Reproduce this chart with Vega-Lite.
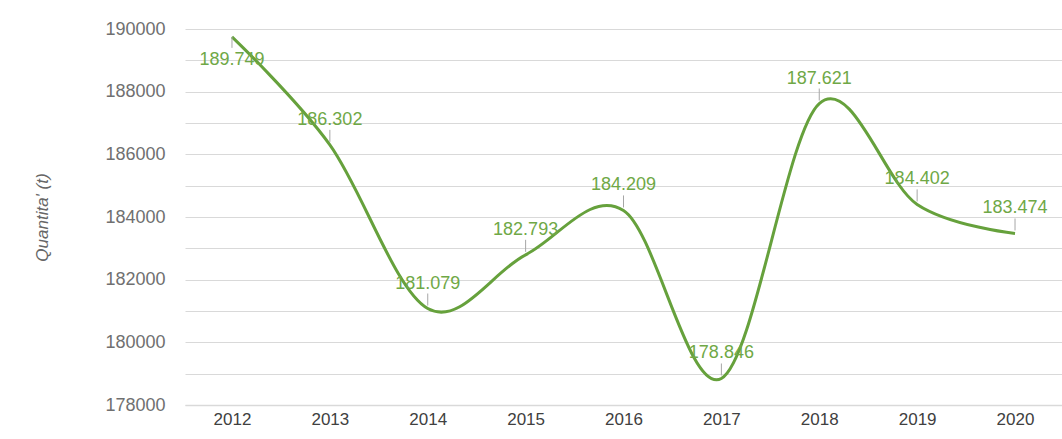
{
  "$schema": "https://vega.github.io/schema/vega-lite/v6.json",
  "width": 877,
  "height": 376,
  "autosize": {"type": "none"},
  "padding": {"left": 185, "top": 29, "right": 0, "bottom": 34},
  "background": "white",
  "config": {
    "view": {"stroke": null},
    "locale": {"number": {"decimal": ",", "thousands": ".", "grouping": [3], "currency": ["€", ""]}},
    "font": "Liberation Sans"
  },
  "data": {
    "values": [
      {"anno": "2012", "valore": 189749},
      {"anno": "2013", "valore": 186302},
      {"anno": "2014", "valore": 181079},
      {"anno": "2015", "valore": 182793},
      {"anno": "2016", "valore": 184209},
      {"anno": "2017", "valore": 178846},
      {"anno": "2018", "valore": 187621},
      {"anno": "2019", "valore": 184402},
      {"anno": "2020", "valore": 183474}
    ]
  },
  "encoding": {
    "x": {
      "field": "anno",
      "type": "ordinal",
      "scale": {"type": "point", "padding": 0.48},
      "axis": {
        "title": null,
        "labelAngle": 0,
        "labelFontSize": 17,
        "labelColor": "#404040",
        "labelPadding": 6,
        "ticks": false,
        "domainColor": "#d9d9d9",
        "domainWidth": 1.5,
        "grid": false
      }
    },
    "y": {
      "field": "valore",
      "type": "quantitative",
      "scale": {"domain": [178000, 190000], "nice": false, "zero": false},
      "axis": {
        "title": "Quantita' (t)",
        "titleFontStyle": "italic",
        "titleFontWeight": "normal",
        "titleFontSize": 17,
        "titleColor": "#666666",
        "titlePadding": 53,
        "values": [178000, 179000, 180000, 181000, 182000, 183000, 184000, 185000, 186000, 187000, 188000, 189000, 190000],
        "format": "d",
        "labelExpr": "datum.value % 2000 == 0 ? datum.label : ''",
        "labelFontSize": 18,
        "labelColor": "#707070",
        "labelPadding": 20,
        "ticks": false,
        "domain": false,
        "grid": true,
        "gridColor": "#d9d9d9",
        "gridWidth": 1
      }
    }
  },
  "layer": [
    {
      "mark": {"type": "line", "interpolate": "cardinal", "color": "#66a13c", "strokeWidth": 3}
    },
    {
      "transform": [{"filter": "datum.anno != '2012'"}],
      "mark": {"type": "rule", "color": "#a6a6a6", "strokeWidth": 1, "yOffset": -3, "y2Offset": -15},
      "encoding": {"y2": {"field": "valore"}}
    },
    {
      "transform": [{"filter": "datum.anno == '2012'"}],
      "mark": {"type": "rule", "color": "#a6a6a6", "strokeWidth": 1, "yOffset": 0, "y2Offset": 11},
      "encoding": {"y2": {"field": "valore"}}
    },
    {
      "transform": [{"filter": "datum.anno != '2012'"}],
      "mark": {"type": "text", "fontSize": 18, "color": "#6fa846", "dy": -25, "baseline": "middle"},
      "encoding": {"text": {"field": "valore", "type": "quantitative", "format": ",d"}}
    },
    {
      "transform": [{"filter": "datum.anno == '2012'"}],
      "mark": {"type": "text", "fontSize": 18, "color": "#6fa846", "dy": 23, "baseline": "middle"},
      "encoding": {"text": {"field": "valore", "type": "quantitative", "format": ",d"}}
    }
  ]
}
